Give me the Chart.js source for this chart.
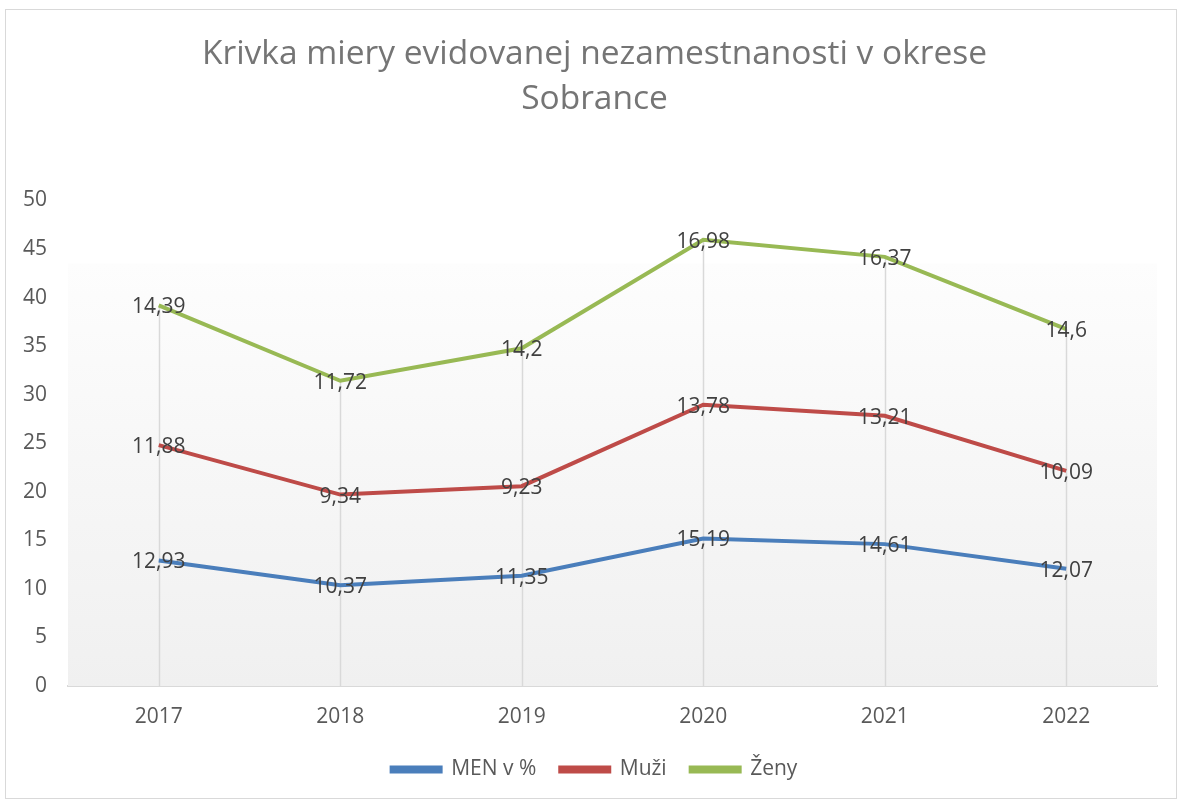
<!DOCTYPE html>
<html>
<head>
<meta charset="utf-8">
<script src="https://cdn.jsdelivr.net/npm/chart.js@4"></script>
<style>
  html, body { margin: 0; padding: 0; background: #fff; }
  #wrap { position: relative; width: 1179px; height: 800px; }
  #frame { position: absolute; left: 5px; top: 9px; width: 1172px; height: 790px; border: 1px solid #d9d9d9; box-sizing: border-box; }
</style>
</head>
<body>
<div id="wrap">
  <div id="frame"></div>
  <canvas id="chart" width="1179" height="800"></canvas>
</div>
<script>
// Data
const years = ['2017', '2018', '2019', '2020', '2021', '2022'];
const menValues = [12.93, 10.37, 11.35, 15.19, 14.61, 12.07];
const muziValues = [11.88, 9.34, 9.23, 13.78, 13.21, 10.09];
const zenyValues = [14.39, 11.72, 14.2, 16.98, 16.37, 14.6];

const seriesNames = ['MEN v %', 'Muži', 'Ženy'];
const seriesColors = ['#4a7ebb', '#be4b48', '#98b954'];

const fontFamily = '"Open Sans", "DejaVu Sans", sans-serif';

// plot area gradient + drop lines
const plotBackground = {
  id: 'plotBackground',
  beforeDatasetsDraw(chart) {
    const { ctx, chartArea } = chart;
    const top = chartArea.top + (chartArea.bottom - chartArea.top) * 0.13;
    const grad = ctx.createLinearGradient(0, top, 0, chartArea.bottom);
    grad.addColorStop(0, '#fdfdfd');
    grad.addColorStop(1, '#f0f0f0');
    ctx.save();
    ctx.fillStyle = grad;
    ctx.fillRect(chartArea.left, top, chartArea.right - chartArea.left, chartArea.bottom - top);

    // drop lines from the top series down to the axis
    const topMeta = chart.getDatasetMeta(chart.data.datasets.length - 1);
    ctx.strokeStyle = '#d9d9d9';
    ctx.lineWidth = 1.5;
    topMeta.data.forEach(pt => {
      ctx.beginPath();
      ctx.moveTo(Math.round(pt.x) + 0.5, pt.y);
      ctx.lineTo(Math.round(pt.x) + 0.5, chartArea.bottom);
      ctx.stroke();
    });
    ctx.restore();
  }
};

// value labels centred on each point
const valueLabels = {
  id: 'valueLabels',
  afterDatasetsDraw(chart) {
    const { ctx } = chart;
    ctx.save();
    ctx.font = '21px ' + fontFamily;
    ctx.fillStyle = '#404040';
    ctx.textAlign = 'center';
    ctx.textBaseline = 'middle';
    chart.data.datasets.forEach((ds, i) => {
      const meta = chart.getDatasetMeta(i);
      meta.data.forEach((pt, j) => {
        ctx.fillText(String(ds.data[j]).replace('.', ','), pt.x, pt.y + 2);
      });
    });
    ctx.restore();
  }
};

new Chart(document.getElementById('chart'), {
  type: 'line',
  data: {
    labels: years,
    datasets: [menValues, muziValues, zenyValues].map((vals, i) => ({
      label: seriesNames[i],
      data: vals,
      borderColor: seriesColors[i],
      backgroundColor: seriesColors[i],
      borderWidth: 4,
      pointRadius: 0,
      tension: 0,
      fill: false
    }))
  },
  options: {
    responsive: false,
    animation: false,
    layout: { padding: { left: 18, right: 8, top: 32, bottom: 10 } },
    plugins: {
      title: {
        display: true,
        text: ['Krivka miery evidovanej nezamestnanosti v okrese', 'Sobrance'],
        color: '#757575',
        font: { family: fontFamily, size: 33.5, weight: 'normal', lineHeight: 1.35 },
        padding: { top: 0, bottom: 78 }
      },
      legend: {
        position: 'bottom',
        labels: {
          color: '#595959',
          font: { family: fontFamily, size: 21 },
          boxWidth: 49,
          boxHeight: 4,
          padding: 24
        }
      },
      tooltip: { enabled: false }
    },
    scales: {
      x: {
        offset: true,
        grid: { display: false, drawTicks: false },
        border: { color: '#d9d9d9', width: 2 },
        ticks: { color: '#595959', font: { family: fontFamily, size: 21 }, padding: 18 },
        afterFit(scale) { scale.height = 49; }
      },
      y: {
        stacked: true,
        min: 0,
        max: 50,
        grid: { display: false, drawTicks: false },
        border: { display: false },
        ticks: { stepSize: 5, color: '#595959', font: { family: fontFamily, size: 21 }, padding: 21 },
        afterFit(scale) { scale.width = 50; }
      },
      // empty right-hand margin, as in the original plot area
      yRight: {
        position: 'right',
        min: 0,
        max: 50,
        grid: { display: false, drawTicks: false },
        border: { display: false },
        ticks: { display: false },
        afterFit(scale) { scale.width = 14; }
      }
    }
  },
  plugins: [plotBackground, valueLabels]
});
</script>
</body>
</html>
